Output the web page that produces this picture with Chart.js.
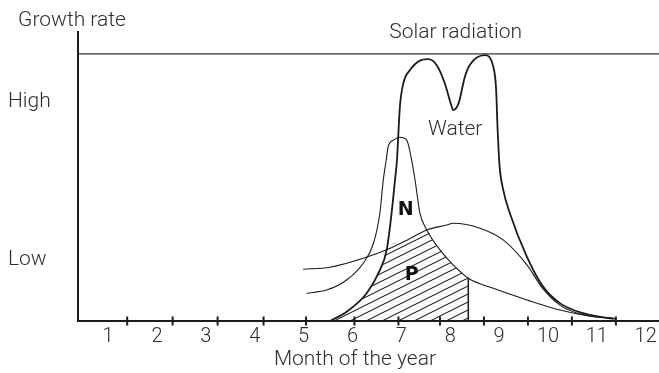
<!DOCTYPE html>
<html>
<head>
<meta charset="utf-8">
<script src="https://cdn.jsdelivr.net/npm/chart.js@4.4.1/dist/chart.umd.min.js"></script>
<style>
  html, body { margin: 0; padding: 0; background: #fff; }
  #wrap { width: 659px; height: 373px; }
</style>
</head>
<body>
<div id="wrap"><canvas id="growthChart"></canvas></div>
<script>
// Month labels and where the tick marks sit on the month axis
const months = [1, 2, 3, 4, 5, 6, 7, 8, 9, 10, 11, 12];
const monthTicks = [1.39, 2.32, 3.24, 4.18, 5.05, 6.04, 6.94, 7.79, 8.69, 9.59, 10.49, 11.39];

// Growth rate axis: only two qualitative levels
const levelValues = [21.2, 75.8];
const levelLabels = ['Low', 'High'];

// Solar radiation is flat all year
const solarLevel = 92.4;

// Water
const waterX = [5.54, 5.88, 6.29, 6.56, 6.70, 6.80, 6.87, 6.91, 6.97, 7.04, 7.18, 7.38, 7.55, 7.72, 7.89, 8.03, 8.06, 8.17, 8.30, 8.40, 8.71, 8.88, 8.94, 8.966, 9.008, 9.086, 9.22, 9.57, 9.90, 10.25, 10.72, 11.27, 11.37];
const waterY = [0, 3.2, 9.6, 17.6, 24.6, 37.3, 48.8, 55.7, 74.2, 82.2, 86.9, 90.1, 90.6, 88.6, 82.2, 74.2, 73.0, 75.3, 84.5, 88.6, 92.0, 88.0, 79.9, 67.8, 54.0, 45.3, 37.3, 22.2, 11.9, 6.1, 2.7, 0.9, 0.8];

// Nitrogen
const nX = [5.06, 5.47, 5.88, 6.22, 6.43, 6.56, 6.63, 6.69, 6.73, 6.84, 6.97, 7.11, 7.21, 7.28, 7.38, 7.52, 7.79, 8.06, 8.37, 8.88, 9.57, 10.25, 10.93, 11.30];
const nY = [9.6, 10.7, 14.2, 20.0, 26.9, 37.3, 48.8, 55.7, 60.3, 62.6, 63.6, 62.6, 55.7, 48.8, 37.3, 31.5, 24.6, 19.4, 14.8, 11.3, 7.3, 3.8, 1.5, 1.1];

// Phosphorus
const pX = [4.99, 5.54, 6.22, 6.77, 7.14, 7.52, 7.93, 8.06, 8.61, 9.09, 9.57, 9.90, 10.25, 10.59, 11.07, 11.34];
const pY = [17.9, 18.6, 21.7, 25.2, 28.2, 31.5, 33.2, 33.8, 32.1, 28.0, 19.4, 11.1, 5.4, 2.8, 1.3, 0.9];

// Actual growth: the lowest factor at each point, up to the cut-off
const limitX = [5.54, 5.88, 6.29, 6.56, 6.70, 7.14, 7.52, 7.65, 7.79, 8.06, 8.37];
const limitY = [0, 3.2, 9.6, 17.6, 24.6, 28.2, 31.5, 27.9, 24.6, 19.4, 14.8];

const xMin = 0.383, xMax = 12.272;
const ink = '#1b1b1b';
const textColor = '#2e2e2e';
const family = "Roboto, 'Liberation Sans', sans-serif";

// free text placed in data units
const notes = [
    { text: 'Growth rate', x: 0.26, y: 104.0 },
    { text: 'Solar radiation', x: 8.11, y: 99.7 },
    { text: 'Water', x: 8.10, y: 66.3 },
    { text: 'N', x: 7.09, y: 38.5, font: "bold 19px 'DejaVu Sans', sans-serif", color: '#111' },
    { text: 'P', x: 7.21, y: 15.9, font: "bold 19px 'DejaVu Sans', sans-serif", color: '#111' },
    { text: 'Month of the year', x: 6.05, y: -13.3 }
];

const points = (xs, ys) => xs.map((x, i) => ({ x, y: ys[i] }));

function hatchPattern() {
    const c = document.createElement('canvas');
    c.width = 16;
    c.height = 8;
    const g = c.getContext('2d');
    g.strokeStyle = ink;
    g.lineWidth = 1.1;
    for (let n = -1; n <= 1; n++) {
        g.beginPath();
        g.moveTo(-4, 10 + 8 * n);
        g.lineTo(20, -2 + 8 * n);
        g.stroke();
    }
    return g.createPattern(c, 'repeat');
}

function curve(xs, ys, width) {
    return {
        data: points(xs, ys),
        borderColor: ink,
        borderWidth: width,
        pointRadius: 0,
        cubicInterpolationMode: 'monotone',
        fill: false
    };
}

const notesPlugin = {
    id: 'notes',
    afterDatasetsDraw(chart) {
        const { ctx, scales: { x, y } } = chart;
        ctx.save();
        ctx.textAlign = 'center';
        ctx.textBaseline = 'middle';
        notes.forEach(n => {
            ctx.font = n.font || `300 21px ${family}`;
            ctx.fillStyle = n.color || textColor;
            ctx.fillText(n.text, x.getPixelForValue(n.x), y.getPixelForValue(n.y));
        });
        ctx.restore();
    }
};

function initChart() {
    const ctx = document.getElementById('growthChart');
    const lastX = limitX[limitX.length - 1];
    const lastY = limitY[limitY.length - 1];

    new Chart(ctx, {
        type: 'line',
        data: {
            datasets: [
                curve(waterX, waterY, 1.8),
                curve(nX, nY, 1.1),
                curve(pX, pY, 1.1),
                {
                    // solar radiation, full width
                    data: [{ x: xMin - 1, y: solarLevel }, { x: xMax + 1, y: solarLevel }],
                    borderColor: '#333',
                    borderWidth: 1.3,
                    pointRadius: 0
                },
                {
                    // right edge of the shaded area
                    data: [{ x: lastX, y: 0 }, { x: lastX, y: lastY }],
                    borderColor: ink,
                    borderWidth: 1.5,
                    pointRadius: 0
                },
                {
                    // month tick marks crossing the axis
                    data: monthTicks.map(x => ({ x, y: 0 })),
                    showLine: false,
                    pointStyle: 'line',
                    rotation: 90,
                    pointRadius: 4.5,
                    pointBorderWidth: 2,
                    pointBorderColor: ink,
                    clip: false
                },
                {
                    data: points(limitX, limitY),
                    borderWidth: 0,
                    borderColor: 'rgba(0,0,0,0)',
                    backgroundColor: hatchPattern(),
                    fill: 'origin',
                    pointRadius: 0,
                    cubicInterpolationMode: 'monotone'
                }
            ]
        },
        options: {
            responsive: true,
            maintainAspectRatio: false,
            animation: false,
            devicePixelRatio: 1,
            events: [],
            layout: { autoPadding: false, padding: { left: 8, top: 32, right: 0, bottom: 0 } },
            plugins: {
                legend: { display: false },
                tooltip: { enabled: false }
            },
            scales: {
                x: {
                    type: 'linear',
                    min: xMin,
                    max: xMax,
                    grid: { display: false, drawTicks: false },
                    border: { display: true, color: ink, width: 2 },
                    afterBuildTicks: s => { s.ticks = months.map(v => ({ value: v })); },
                    afterFit: s => { s.height = 52; s.paddingLeft = 0; s.paddingRight = 0; },
                    ticks: {
                        autoSkip: false,
                        maxRotation: 0,
                        padding: 4,
                        color: textColor,
                        font: { family, size: 20, weight: 300 },
                        callback: v => String(v)
                    }
                },
                y: {
                    min: 0,
                    max: 100,
                    grid: { display: false, drawTicks: false },
                    border: { display: true, color: ink, width: 2 },
                    afterBuildTicks: s => { s.ticks = levelValues.map(v => ({ value: v })); },
                    afterFit: s => { s.width = 70; },
                    ticks: {
                        crossAlign: 'far',
                        color: textColor,
                        font: { family, size: 21, weight: 300 },
                        callback: (v, i) => levelLabels[i]
                    }
                }
            }
        },
        plugins: [notesPlugin]
    });
}

document.addEventListener('DOMContentLoaded', initChart);
</script>
</body>
</html>
